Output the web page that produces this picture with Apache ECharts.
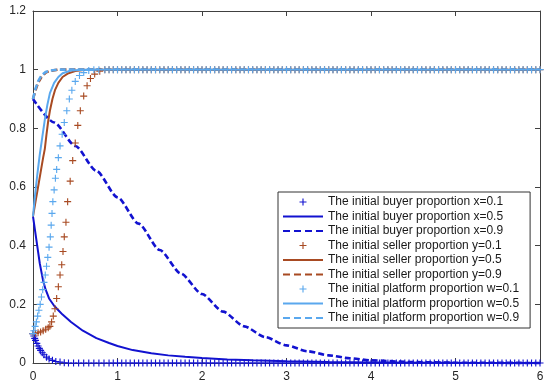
<!DOCTYPE html>
<html>
<head>
<meta charset="utf-8">
<script src="https://cdn.jsdelivr.net/npm/echarts@6/dist/echarts.min.js"></script>
<style>html,body{margin:0;padding:0;background:#fff;}#c{width:550px;height:389px;}</style>
</head>
<body>
<div id="c"></div>
<script>
// ---- data (time, value) ----
const xTicks = [0, 1, 2, 3, 4, 5, 6];
const yTicks = [0, 0.2, 0.4, 0.6, 0.8, 1, 1.2];

const legendNames = [
  'The initial buyer proportion x=0.1',
  'The initial buyer proportion x=0.5',
  'The initial buyer proportion x=0.9',
  'The initial seller proportion y=0.1',
  'The initial seller proportion y=0.5',
  'The initial seller proportion y=0.9',
  'The initial platform proportion w=0.1',
  'The initial platform proportion w=0.5',
  'The initial platform proportion w=0.9'
];

// shared solver steps after the transients
const tTail = [0.9,0.95,1,1.05,1.1,1.15,1.2,1.25,1.3,1.35,1.4,1.45,1.5,1.55,1.6,1.65,1.7,1.75,1.8,1.85,1.9,1.95,2,2.05,2.1,2.15,2.2,2.25,2.3,2.35,2.4,2.45,2.5,2.55,2.6,2.65,2.7,2.75,2.8,2.85,2.9,2.95,3,3.05,3.1,3.15,3.2,3.25,3.3,3.35,3.4,3.45,3.5,3.55,3.6,3.65,3.7,3.75,3.8,3.85,3.9,3.95,4,4.05,4.1,4.15,4.2,4.25,4.3,4.35,4.4,4.45,4.5,4.55,4.6,4.65,4.7,4.75,4.8,4.85,4.9,4.95,5,5.05,5.1,5.15,5.2,5.25,5.3,5.35,5.4,5.45,5.5,5.55,5.6,5.65,5.7,5.75,5.8,5.85,5.9,5.95,6];
const tailHigh = [1,1,1,1,1,1,1,1,1,1,1,1,1,1,1,1,1,1,1,1,1,1,1,1,1,1,1,1,1,1,1,1,1,1,1,1,1,1,1,1,1,1,1,1,1,1,1,1,1,1,1,1,1,1,1,1,1,1,1,1,1,1,1,1,1,1,1,1,1,1,1,1,1,1,1,1,1,1,1,1,1,1,1,1,1,1,1,1,1,1,1,1,1,1,1,1,1,1,1,1,1,1,1];
const tailLow = [0,0,0,0,0,0,0,0,0,0,0,0,0,0,0,0,0,0,0,0,0,0,0,0,0,0,0,0,0,0,0,0,0,0,0,0,0,0,0,0,0,0,0,0,0,0,0,0,0,0,0,0,0,0,0,0,0,0,0,0,0,0,0,0,0,0,0,0,0,0,0,0,0,0,0,0,0,0,0,0,0,0,0,0,0,0,0,0,0,0,0,0,0,0,0,0,0,0,0,0,0,0,0];

// buyer x=0.1 (markers)
const buyer01T = [0,0.01,0.02,0.03,0.045,0.06,0.075,0.09,0.11,0.13,0.16,0.19,0.23,0.27,0.32,0.37,0.42,0.48,0.54,0.6,0.66,0.72,0.78,0.84];
const buyer01V = [0.1,0.092,0.084,0.077,0.067,0.058,0.05,0.043,0.035,0.028,0.02,0.014,0.009,0.005,0.003,0.001,0,0,0,0,0,0,0,0];
// buyer x=0.5 (solid)
const buyer05T = [0,0.02,0.04,0.06,0.08,0.1,0.12,0.15,0.19,0.25,0.3,0.35,0.45,0.59,0.75,0.9,1,1.18,1.4,1.6,1.8,2,2.3,2.6,3,3.5,4,5,6];
const buyer05V = [0.5,0.46,0.42,0.38,0.34,0.31,0.28,0.25,0.22,0.195,0.18,0.165,0.14,0.11,0.085,0.068,0.058,0.044,0.033,0.026,0.021,0.017,0.012,0.009,0.006,0.003,0.002,0.0005,0];
// buyer x=0.9 (dashed)
const buyer09T = [0,0.25,0.5,0.75,1,1.25,1.5,1.75,2,2.25,2.5,2.75,3,3.25,3.5,3.75,4,4.5,5,6];
const buyer09V = [0.9,0.82,0.74,0.655,0.565,0.475,0.385,0.305,0.235,0.175,0.125,0.088,0.06,0.04,0.026,0.016,0.009,0.003,0.001,0];
// seller y=0.1 (markers)
const seller01T = [0,0.03,0.06,0.09,0.12,0.15,0.18,0.2,0.22,0.24,0.26,0.28,0.3,0.32,0.34,0.355,0.37,0.39,0.41,0.44,0.47,0.5,0.53,0.56,0.6,0.64,0.68,0.73,0.79,0.85];
const seller01V = [0.1,0.101,0.103,0.106,0.11,0.115,0.12,0.125,0.14,0.16,0.185,0.22,0.26,0.3,0.335,0.38,0.43,0.48,0.55,0.62,0.69,0.75,0.81,0.86,0.91,0.945,0.97,0.985,0.995,1];
// seller y=0.5 (solid)
const seller05T = [0,0.03,0.06,0.09,0.12,0.14,0.16,0.18,0.2,0.23,0.26,0.3,0.35,0.42,0.5,0.6,0.7,6];
const seller05V = [0.5,0.55,0.6,0.65,0.7,0.73,0.78,0.825,0.86,0.9,0.93,0.955,0.975,0.988,0.995,0.999,1,1];
// seller y=0.9 (dashed)
const seller09T = [0,0.03,0.06,0.1,0.15,0.2,0.3,6];
const seller09V = [0.9,0.93,0.955,0.975,0.99,0.996,1,1];
// platform w=0.1 (markers)
const platform01T = [0,0.01,0.025,0.04,0.055,0.07,0.085,0.1,0.115,0.13,0.145,0.16,0.175,0.19,0.205,0.215,0.225,0.235,0.25,0.265,0.28,0.3,0.32,0.345,0.37,0.4,0.43,0.46,0.5,0.55,0.6,0.66,0.72,0.78,0.85];
const platform01V = [0.1,0.11,0.125,0.14,0.16,0.18,0.2,0.225,0.25,0.275,0.3,0.33,0.36,0.395,0.43,0.47,0.51,0.55,0.59,0.63,0.66,0.7,0.74,0.78,0.82,0.86,0.9,0.93,0.96,0.98,0.99,0.997,1,1,1];
// platform w=0.5 (solid)
const platform05T = [0,0.02,0.05,0.08,0.11,0.14,0.17,0.2,0.25,0.3,0.35,0.45,0.6,6];
const platform05V = [0.5,0.56,0.64,0.71,0.77,0.83,0.88,0.92,0.955,0.975,0.988,0.997,1,1];
// platform w=0.9 (dashed)
const platform09T = [0,0.03,0.06,0.1,0.15,0.2,0.3,6];
const platform09V = [0.9,0.935,0.96,0.98,0.992,0.997,1,1];

// ---- build ----
function zip(t, v) { return t.map((x, i) => [x, v[i]]); }
const PLUS = 'path://M4.2,0H5.8V4.2H10V5.8H5.8V10H4.2V5.8H0V4.2H4.2Z';
const ICON_SOLID = 'path://M0,0H40V2H0Z';
const ICON_DASH = 'path://M0,0H7V2H0Z M11,0H18V2H11Z M22,0H29V2H22Z M33,0H40V2H33Z';
const cBuyer = '#1212D0', cSeller = '#A84A22', cPlat = '#5AA8EE';

function markers(name, color, data) {
  return { name, type: 'line', data, symbol: PLUS, symbolSize: 7, showSymbol: true,
    itemStyle: { color }, lineStyle: { width: 0, color }, clip: false, z: 3 };
}
function line(name, color, data, dashed, w, sm) {
  return { name, type: 'line', data, symbol: 'none', showSymbol: false,
    itemStyle: { color }, lineStyle: { color, width: w, type: dashed ? [6, 3] : 'solid' },
    smooth: sm, smoothMonotone: 'x', clip: false, z: 3 };
}

const series = [
  markers(legendNames[0], cBuyer, zip(buyer01T, buyer01V).concat(zip(tTail, tailLow))),
  line(legendNames[1], cBuyer, zip(buyer05T, buyer05V), false, 2, false),
  line(legendNames[2], cBuyer, zip(buyer09T, buyer09V), true, 2.6, 0.25),
  markers(legendNames[3], cSeller, zip(seller01T, seller01V).concat(zip(tTail, tailHigh))),
  line(legendNames[4], cSeller, zip(seller05T, seller05V), false, 2, false),
  line(legendNames[5], cSeller, zip(seller09T, seller09V), true, 2.6, false),
  markers(legendNames[6], cPlat, zip(platform01T, platform01V).concat(zip(tTail, tailHigh))),
  line(legendNames[7], cPlat, zip(platform05T, platform05V), false, 2, false),
  line(legendNames[8], cPlat, zip(platform09T, platform09V), true, 2.6, false)
];
const legendIcons = [PLUS, ICON_SOLID, ICON_DASH, PLUS, ICON_SOLID, ICON_DASH, PLUS, ICON_SOLID, ICON_DASH];

const axisCol = '#404040';
const lab = { color: '#262626', fontSize: 12, fontFamily: 'Liberation Sans, Arial, sans-serif' };
const tick = { show: true, inside: true, length: 5, lineStyle: { color: axisCol, width: 1 } };
const chart = echarts.init(document.getElementById('c'), null, { renderer: 'canvas' });
chart.setOption({
  animation: false,
  backgroundColor: '#fff',
  grid: { left: 33, right: 10, top: 11, bottom: 26, containLabel: false },
  xAxis: [
    { type: 'value', min: xTicks[0], max: xTicks[xTicks.length - 1], interval: 1, position: 'bottom',
      axisLine: { onZero: false, lineStyle: { color: axisCol } }, axisTick: tick,
      splitLine: { show: false }, axisLabel: Object.assign({ margin: 8 }, lab) },
    { type: 'value', min: xTicks[0], max: xTicks[xTicks.length - 1], interval: 1, position: 'top',
      axisLine: { onZero: false, lineStyle: { color: axisCol } }, axisTick: tick,
      splitLine: { show: false }, axisLabel: { show: false } }
  ],
  yAxis: [
    { type: 'value', min: yTicks[0], max: yTicks[yTicks.length - 1], interval: 0.2, position: 'left',
      axisLine: { show: true, onZero: false, lineStyle: { color: axisCol } }, axisTick: tick,
      splitLine: { show: false }, axisLabel: Object.assign({ margin: 7 }, lab) },
    { type: 'value', min: yTicks[0], max: yTicks[yTicks.length - 1], interval: 0.2, position: 'right',
      axisLine: { show: true, onZero: false, lineStyle: { color: axisCol } }, axisTick: tick,
      splitLine: { show: false }, axisLabel: { show: false } }
  ],
  legend: {
    orient: 'vertical', left: 278, top: 192,
    data: legendNames.map((n, i) => ({ name: n, icon: legendIcons[i] })),
    backgroundColor: '#fff', borderColor: '#333', borderWidth: 1,
    padding: [4, 11, 4, 5],
    itemWidth: 40, itemHeight: 7, itemGap: 2.5,
    textStyle: { fontSize: 12, lineHeight: 12, color: '#1a1a1a', fontFamily: 'Liberation Sans, Arial, sans-serif' },
    selectedMode: false
  },
  series
});
</script>
</body>
</html>
